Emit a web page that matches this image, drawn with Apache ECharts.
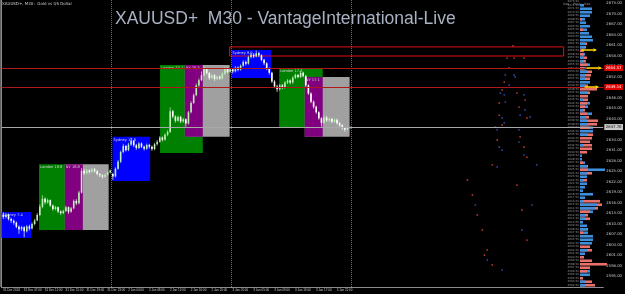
<!DOCTYPE html>
<html><head><meta charset="utf-8">
<script src="https://cdn.jsdelivr.net/npm/echarts@6/dist/echarts.min.js"></script>
<style>html,body{margin:0;padding:0;background:#000;}#c{width:625px;height:294px;}</style>
</head><body><div id="c"></div>
<script>
// ---- data ----
const tickLabels = ['31 Dec 2024','31 Dec 07:00','31 Dec 11:00','31 Dec 15:00','31 Dec 19:00','31 Dec 23:00',
  '2 Jan 04:00','2 Jan 08:00','2 Jan 12:00','2 Jan 16:00','2 Jan 20:00',
  '3 Jan 01:00','3 Jan 05:00','3 Jan 09:00','3 Jan 13:00','3 Jan 17:00','3 Jan 21:00'];
// candles [open, close, low, high]
const dec31 = [
 [2612.6,2612.0,2611.4,2613.3],[2612.0,2612.6,2611.6,2613.2],[2612.6,2611.4,2611.0,2612.9],[2611.4,2610.9,2610.3,2611.8],
 [2610.9,2610.4,2609.8,2611.3],[2610.4,2609.2,2608.8,2610.7],[2609.2,2608.5,2607.2,2609.6],[2608.5,2609.1,2608.0,2609.5],
 [2609.1,2607.9,2606.2,2609.4],[2607.9,2609.3,2607.6,2609.7],[2609.3,2608.7,2608.2,2609.8],[2608.7,2610.0,2608.4,2610.5],
 [2610.0,2611.0,2609.6,2611.5],[2611.0,2612.6,2610.8,2613.1],[2612.6,2614.9,2612.3,2615.6],[2614.9,2617.2,2614.5,2618.2],
 [2617.2,2616.2,2615.6,2617.6],[2616.2,2616.8,2615.8,2617.3],[2616.8,2615.3,2614.9,2617.0],[2615.3,2614.3,2613.8,2615.6],
 [2614.3,2614.8,2613.9,2615.2],[2614.8,2613.6,2613.1,2615.0],[2613.6,2613.1,2612.6,2613.9],[2613.1,2613.7,2612.8,2614.1],
 [2613.7,2614.8,2613.4,2615.2],[2614.8,2613.5,2612.9,2615.0],[2613.5,2614.5,2613.2,2614.9],[2614.5,2616.6,2614.2,2617.0],
 [2616.6,2615.9,2615.4,2617.1],[2615.9,2619.0,2615.6,2619.5],[2619.0,2625.2,2618.7,2626.0],[2625.2,2624.5,2624.0,2625.8],
 [2624.5,2625.3,2624.2,2625.7],[2625.3,2624.9,2624.4,2625.6],[2624.9,2625.6,2624.6,2626.0],[2625.6,2625.1,2624.7,2626.0],
 [2625.1,2624.3,2623.9,2625.4],[2624.3,2623.9,2623.4,2624.6],[2623.9,2623.5,2623.0,2624.2],[2623.5,2624.1,2623.2,2624.4],
 [2624.1,2624.7,2623.8,2625.0],[2624.7,2625.3,2624.4,2625.6]];
const jan2 = [
 [2624.3,2623.6,2622.6,2624.6],[2623.6,2625.8,2623.3,2626.2],[2625.8,2627.8,2625.5,2628.3],[2627.8,2630.6,2627.4,2631.0],
 [2630.6,2632.3,2630.2,2632.9],[2632.3,2631.1,2630.7,2632.6],[2631.1,2632.7,2630.8,2633.2],[2632.7,2633.7,2632.3,2634.6],
 [2633.7,2632.5,2632.0,2634.0],[2632.5,2631.7,2631.2,2632.9],[2631.7,2633.0,2631.4,2633.4],[2633.0,2632.1,2631.7,2633.3],
 [2632.1,2631.5,2631.0,2632.4],[2631.5,2632.6,2631.2,2633.0],[2632.6,2632.1,2631.6,2632.9],[2632.1,2631.4,2630.9,2632.4],
 [2631.4,2632.8,2631.1,2633.2],[2632.8,2633.5,2632.4,2634.0],[2633.5,2634.7,2633.2,2635.1],[2634.7,2634.1,2633.6,2635.0],
 [2634.1,2635.5,2633.8,2635.9],[2635.5,2636.3,2635.1,2636.8],[2636.3,2642.2,2636.0,2643.3],[2642.2,2640.7,2640.2,2642.6],
 [2640.7,2639.5,2639.0,2641.0],[2639.5,2640.6,2639.2,2641.0],[2640.6,2639.3,2638.8,2640.9],[2639.3,2639.9,2638.9,2640.3],
 [2639.9,2638.7,2637.8,2640.2],[2638.7,2641.9,2638.4,2642.3],[2641.9,2644.6,2641.6,2645.1],[2644.6,2646.8,2644.3,2647.3],
 [2646.8,2649.6,2646.5,2650.1],[2649.6,2651.1,2649.2,2651.6],[2651.1,2652.5,2650.8,2653.6],[2652.5,2654.3,2652.2,2655.1],
 [2654.3,2653.1,2652.7,2654.6],[2653.1,2651.7,2651.2,2653.4],[2651.7,2652.5,2651.4,2652.9],[2652.5,2651.4,2650.9,2652.8],
 [2651.4,2652.1,2651.1,2652.5],[2652.1,2651.6,2651.2,2652.4],[2651.6,2652.9,2651.3,2653.3],[2652.9,2654.5,2652.6,2654.9],
 [2654.5,2653.5,2653.1,2654.8],[2653.5,2654.2,2653.2,2654.6]];
const jan3 = [
 [2654.2,2653.6,2653.0,2654.5],[2653.6,2654.7,2653.3,2655.1],[2654.7,2654.1,2653.6,2655.0],[2654.1,2655.2,2653.8,2655.6],
 [2655.2,2656.3,2654.9,2656.8],[2656.3,2655.8,2655.3,2656.7],[2655.8,2657.7,2655.5,2658.1],[2657.7,2658.4,2657.3,2658.9],
 [2658.4,2657.9,2657.4,2658.8],[2657.9,2658.8,2657.6,2659.6],[2658.8,2658.2,2657.7,2659.2],[2658.2,2656.9,2656.5,2658.5],
 [2656.9,2655.9,2655.4,2657.2],[2655.9,2654.4,2654.0,2656.2],[2654.4,2653.2,2652.7,2654.7],[2653.2,2650.7,2650.3,2653.5],
 [2650.7,2649.3,2648.8,2651.1],[2649.3,2648.5,2647.7,2649.8],[2648.5,2649.6,2648.1,2650.0],[2649.6,2649.0,2648.5,2650.0],
 [2649.0,2650.4,2648.7,2650.8],[2650.4,2651.0,2650.0,2651.4],[2651.0,2650.4,2649.9,2651.3],[2650.4,2651.8,2650.1,2652.2],
 [2651.8,2652.6,2651.4,2653.0],[2652.6,2652.0,2651.6,2652.9],[2652.0,2653.2,2651.7,2653.8],[2653.2,2652.3,2651.9,2653.5],
 [2652.3,2649.6,2649.2,2652.6],[2649.6,2647.3,2646.9,2649.9],[2647.3,2644.9,2644.5,2647.6],[2644.9,2643.5,2643.0,2645.3],
 [2643.5,2641.9,2641.5,2643.8],[2641.9,2640.2,2639.8,2642.2],[2640.2,2638.9,2637.8,2640.5],[2638.9,2640.4,2638.6,2641.0],
 [2640.4,2639.6,2639.2,2640.8],[2639.6,2640.0,2639.2,2640.4],[2640.0,2639.2,2638.8,2640.3],[2639.2,2639.8,2638.9,2640.2],
 [2639.8,2638.8,2638.4,2640.1],[2638.8,2638.2,2637.8,2639.1],[2638.2,2637.4,2637.0,2638.5],[2637.4,2637.0,2636.4,2637.7],
 [2637.0,2637.4,2636.7,2637.8],[2637.4,2637.7,2637.2,2637.9]];
// session boxes: [session, startBar, endBar, high, low]
const sessionBoxes = [
 ['Sydney',0,11.4,2613.4,2606.0],['London',14.4,31.2,2627.1,2608.3],['Close',24.3,41.1,2627.1,2608.3],['NY',24.3,31.2,2627.1,2608.3],
 ['Sydney',42.6,57.0,2634.9,2622.3],['London',60.8,77.2,2655.4,2630.3],['Close',70.3,87.5,2655.4,2634.9],['NY',70.3,77.2,2655.4,2634.9],
 ['Sydney',88.2,103.4,2659.7,2651.7],['London',106.5,123.2,2654.6,2637.4],['Close',116.3,133.5,2652.0,2634.9],['NY',116.3,123.2,2652.0,2634.9]];
const rangeZone = [87.5,215.6,2660.6,2658.0];
const levelLines = [2654.57,2649.14];
const currentPrice = 2637.7;
const daySeparators = [42.2,88.2,134.2];
const arrows = [[222.4,228.1,2659.7],[224.3,230.0,2654.57],[223.6,228.9,2649.14]];
const dotsRed = [[196.2,2660.9],[193.9,2657.4],[196.6,2657.4],[200.4,2657.4],[194.7,2654.6],[192.8,2650.6],[192.0,2648.3],
 [197.7,2647.4],[200.8,2645.4],[190.9,2644.6],[198.5,2643.4],[190.9,2641.1],[201.5,2640.3],[189.4,2637.7],[192.0,2638.3],
 [198.9,2634.9],[190.1,2634.0],[200.4,2632.0],[201.5,2629.1],[188.2,2626.9],[178.7,2622.6],[180.6,2618.3],[182.5,2612.6],
 [184.4,2608.3],[186.3,2602.6],[185.2,2601.1],[188.2,2598.3],[199.6,2614.0],[201.5,2605.4],[197.7,2621.1]];
const dotsBlue = [[193.2,2652.6],[196.6,2652.6],[197.0,2652.0],[194.7,2649.7],[191.3,2647.4],[192.8,2646.9],[200.4,2646.9],
 [193.2,2644.9],[200.8,2642.6],[192.0,2640.3],[198.9,2641.1],[202.7,2640.6],[192.8,2638.9],[190.1,2636.9],[198.5,2636.9],
 [190.9,2632.0],[192.0,2631.1],[198.5,2633.4],[200.4,2629.7],[190.1,2626.3],[203.4,2615.4],[205.3,2626.9],[181.7,2615.4],
 [186.3,2599.7],[192.0,2596.9],[199.6,2608.3]];
const profileTop = 2673.5;
const profileBlue = [0,4,12,12,10,5,6,10,7,9,12,13,5,5,4,5,4,3,10,6,7,5,5,10,6,0,7,0,3,10,8,3,12,6,7,8,13,13,7,0,0,3,0,0,2,2,5,7,25,7,7,3,7,5,3,13,5,3,17,15,13,5,5,3,7,7,8,13,13,12,0,7,5,0,0,0,0,10,10,0,5,5];
const profileRed  = [0,0,0,0,0,2,0,0,3,0,0,0,7,6,3,4,7,6,8,4,12,11,10,0,8,17,10,8,8,7,5,5,7,9,18,17,10,0,13,12,10,12,12,7,0,0,3,8,8,12,0,7,0,0,0,0,0,20,22,18,10,8,10,0,0,8,3,0,0,0,10,12,0,4,12,27,10,7,0,3,12,15];

// ---- build ----
const BAR0 = 0.7;
const candles = [];
[dec31, jan2, jan3].reduce((idx, day) => { day.forEach((k, j) => candles.push([idx + j + BAR0, ...k])); return idx + day.length; }, 0);
const profileRows = profileBlue.map((b, r) => [profileTop - r, b, profileRed[r]]);
const boxColors = {Sydney:'#0000ff', London:'#008000', NY:'#800080', Close:'#a0a0a0'};
const boxData = sessionBoxes.map(([s,x0,x1,hi,lo]) => [
  {xAxis:x0, yAxis:hi, itemStyle:{color:boxColors[s]},
   label:{show:s!=='Close', formatter:s+' '+(hi-lo).toFixed(1), position:'insideTopLeft', distance:1, fontSize:3.6, color:'#d8d8d8'}},
  {xAxis:x1, yAxis:lo}]);

const chart = echarts.init(document.getElementById('c'), null, {renderer:'canvas'});
const FONT = 'DejaVu Sans';
chart.setOption({
  backgroundColor:'#000000',
  animation:false,
  textStyle:{fontFamily:FONT},
  grid:[{left:0,right:18,top:0,bottom:7},{left:580,right:18,top:0,bottom:7}],
  xAxis:[
    {type:'value',gridIndex:0,min:0,max:230.8,interval:8,
     axisLine:{show:true,lineStyle:{color:'#8c8c8c',width:1}},axisTick:{show:false},splitLine:{show:false},
     axisLabel:{fontSize:3,fontFamily:'Liberation Sans',color:'#c8c8c8',align:'left',margin:2,padding:[0,0,0,1.5],showMinLabel:true,showMaxLabel:false,hideOverlap:false,
       formatter:v=>{const k=Math.round(v/8);return (Math.abs(v-k*8)<0.01&&k<tickLabels.length)?tickLabels[k]:'';}}},
    {type:'value',gridIndex:1,min:0,max:27,show:false}],
  yAxis:[
    {type:'value',gridIndex:0,position:'right',min:2592,max:2674,interval:3,
     axisLine:{show:true,lineStyle:{color:'#8c8c8c',width:1}},axisTick:{show:false},splitLine:{show:false},
     axisLabel:{fontSize:3.8,color:'#c8c8c8',margin:3,showMinLabel:false,formatter:v=>v.toFixed(2)}},
    {type:'value',gridIndex:1,min:2592,max:2674,show:false}],
  graphic:[
    {type:'line',shape:{x1:0.5,y1:0,x2:0.5,y2:287},style:{stroke:'#606060',lineWidth:1}},
    {type:'text',left:2,top:2,style:{text:'XAUUSD+, M30:  Gold vs US Dollar',fontSize:4,fill:'#c8c8c8',fontFamily:FONT}},
    {type:'text',left:115,top:10,style:{text:'XAUUSD+  M30 - VantageInternational-Live',fontSize:17.5,fill:'#a9b2c2',fontFamily:'Liberation Sans'}},
    {type:'text',left:563,top:3,style:{text:'Size    Price    Size',fontSize:3,fill:'#9a9a9a',fontFamily:FONT}}
  ],
  series:[
    {type:'line',xAxisIndex:0,yAxisIndex:0,data:[],z:1,
     markArea:{silent:true,data:boxData},
     markLine:{silent:true,symbol:'none',label:{show:false},lineStyle:{type:'dotted',color:'#707070',width:1},
       data:daySeparators.map(x=>({xAxis:x}))}},
    {type:'custom',xAxisIndex:1,yAxisIndex:1,z:2,clip:false,data:profileRows,
     renderItem:(p,api)=>{
       const price=api.value(0),b=api.value(1),r=api.value(2);
       const o=api.coord([0,price]);const pb=api.coord([b,price]);const pr=api.coord([r,price]);
       const h=2.6;const ch=[];
       const rb={type:'rect',shape:{x:o[0],y:o[1]-h/2,width:pb[0]-o[0],height:h},style:{fill:'#3d8fdc'}};
       const rr={type:'rect',shape:{x:o[0],y:o[1]-h/2,width:pr[0]-o[0],height:h},style:{fill:'#e8706a'}};
       if(r>=b){ch.push(rr,rb);}else{ch.push(rb,rr);}
       ch.push({type:'text',x:o[0]-1,y:o[1],style:{text:price.toFixed(2),fontSize:2.8,fill:'#8e8e8e',align:'right',verticalAlign:'middle',fontFamily:FONT}});
       return {type:'group',children:ch};
     }},
    {type:'line',xAxisIndex:0,yAxisIndex:0,data:[],z:3,
     markArea:{silent:true,itemStyle:{color:'rgba(0,0,0,0)',borderColor:'#e01010',borderWidth:1},
       data:[[{xAxis:rangeZone[0],yAxis:rangeZone[2]},{xAxis:rangeZone[1],yAxis:rangeZone[3]}]]},
     markLine:{silent:true,symbol:'none',
       data:[
         ...levelLines.map(v=>({yAxis:v,lineStyle:{color:'#b01818',width:1,type:'solid'},
            label:{show:true,position:'end',distance:1,formatter:v.toFixed(2),fontSize:3.8,color:'#ffffff',backgroundColor:'#e00000',padding:[1,1.5]}})),
         {yAxis:currentPrice,lineStyle:{color:'#a8a8a8',width:1,type:'solid'},
            label:{show:true,position:'end',distance:1,formatter:currentPrice.toFixed(2),fontSize:3.8,color:'#000',backgroundColor:'#c8c8c8',padding:[1,1.5]}}
       ]}},
    {type:'custom',xAxisIndex:0,yAxisIndex:0,z:4,clip:true,data:candles,
     renderItem:(p,api)=>{
       const x=api.value(0),o=api.value(1),c=api.value(2),l=api.value(3),h=api.value(4);
       const po=api.coord([x,o]),pc=api.coord([x,c]),pl=api.coord([x,l]),ph=api.coord([x,h]);
       const col=c>=o?'#b8f0b0':'#ffffff';const w=1.6;
       const top=Math.min(po[1],pc[1]);const hh=Math.max(Math.abs(po[1]-pc[1]),0.8);
       return {type:'group',children:[
         {type:'line',shape:{x1:pl[0],y1:pl[1],x2:ph[0],y2:ph[1]},style:{stroke:col,lineWidth:0.7}},
         {type:'rect',shape:{x:po[0]-w/2,y:top,width:w,height:hh},style:{fill:col}}]};
     }},
    {type:'scatter',xAxisIndex:0,yAxisIndex:0,z:4,symbolSize:1.8,itemStyle:{color:'#e04a3a'},data:dotsRed},
    {type:'scatter',xAxisIndex:0,yAxisIndex:0,z:4,symbolSize:1.8,itemStyle:{color:'#3a5ad8'},data:dotsBlue},
    {type:'lines',coordinateSystem:'cartesian2d',xAxisIndex:0,yAxisIndex:0,z:5,symbol:['none','arrow'],symbolSize:3,
     lineStyle:{color:'#ffd700',width:1.5,opacity:1},
     data:arrows.map(([x0,x1,y])=>({coords:[[x0,y],[x1,y]]}))}
  ]
});
</script></body></html>
